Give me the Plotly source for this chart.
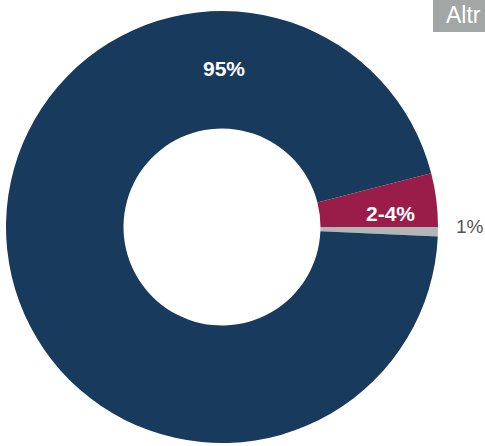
import plotly.graph_objects as go

# Data (slice order: clockwise from 3 o'clock)
categories = ["1%", "95%", "2-4%"]
values = [0.7, 95.3, 4.0]
slice_colors = ["#b3b5b6", "#183a5d", "#9a1c48"]

W, H = 485, 446
cx, cy, R = 222, 227, 216  # pixel centre (from top) and radius

fig = go.Figure(go.Pie(
    labels=categories,
    values=values,
    hole=0.456,
    sort=False,
    direction="clockwise",
    rotation=90,
    marker=dict(colors=slice_colors, line=dict(width=0)),
    textinfo="none",
    hoverinfo="skip",
    domain=dict(x=[(cx - R) / W, (cx + R) / W],
                y=[(H - cy - R) / H, (H - cy + R) / H]),
))

font_family = "Liberation Sans, Arial, sans-serif"
fig.update_layout(
    width=W, height=H,
    margin=dict(l=0, r=0, t=0, b=0),
    paper_bgcolor="white",
    plot_bgcolor="white",
    showlegend=False,
    shapes=[dict(type="rect", xref="paper", yref="paper",
                 x0=433 / W, x1=1.05, y0=(H - 32) / H, y1=1.05,
                 fillcolor="#a2a6a5", line=dict(width=0), layer="above")],
    annotations=[
        dict(text="<b>95%</b>", x=224 / W, y=(H - 68) / H, xref="paper", yref="paper",
             xanchor="center", yanchor="middle", showarrow=False,
             font=dict(color="white", size=21, family=font_family)),
        dict(text="<b>2-4%</b>", x=390 / W, y=(H - 213) / H, xref="paper", yref="paper",
             xanchor="center", yanchor="middle", showarrow=False,
             font=dict(color="white", size=21, family=font_family)),
        dict(text="1%", x=454 / W, y=(H - 226) / H, xref="paper", yref="paper",
             xanchor="left", yanchor="middle", showarrow=False,
             font=dict(color="#555555", size=19, family=font_family)),
        dict(text="Altr", x=444 / W, y=(H - 15) / H, xref="paper", yref="paper",
             xanchor="left", yanchor="middle", showarrow=False,
             font=dict(color="white", size=23, family=font_family)),
    ],
)

fig.write_html("out.html", config={"displayModeBar": False},
               post_script="document.body.style.margin='0';")
